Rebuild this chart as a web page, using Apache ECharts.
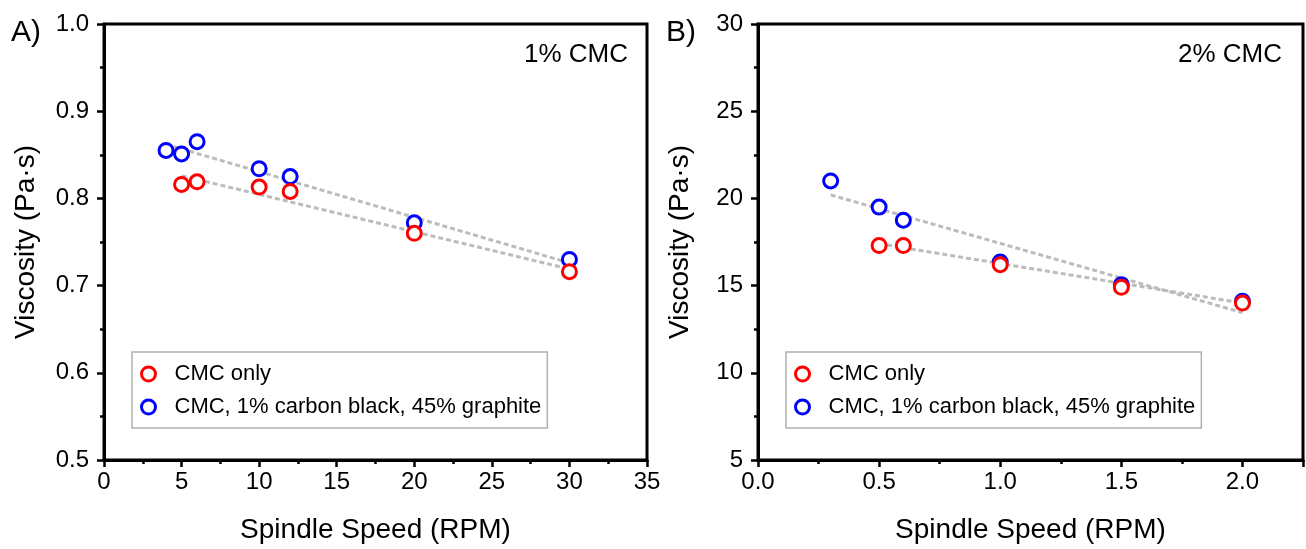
<!DOCTYPE html>
<html>
<head>
    <meta charset="utf-8"/>
    <title>Viscosity vs spindle speed</title>
    <script src="https://cdn.jsdelivr.net/npm/echarts@6/dist/echarts.min.js"></script>
    <style>
        html, body { margin: 0; padding: 0; background: #fff; }
        #chart { width: 1306px; height: 549px; }
    </style>
</head>
<body>
<div id="chart"></div>
<script>
    // panel A: 1% CMC
    var speedA_cmc = [5, 6, 10, 12, 20, 30];
    var viscA_cmc = [0.816, 0.819, 0.813, 0.808, 0.760, 0.716];
    var speedA_cb = [4, 5, 6, 10, 12, 20, 30];
    var viscA_cb = [0.855, 0.851, 0.865, 0.834, 0.825, 0.772, 0.730];
    var fitA_cmc = [[5, 0.826], [30, 0.719]];
    var fitA_cb = [[4, 0.862], [30, 0.726]];

    // panel B: 2% CMC
    var speedB_cmc = [0.5, 0.6, 1.0, 1.5, 2.0];
    var viscB_cmc = [17.3, 17.3, 16.2, 14.9, 14.0];
    var speedB_cb = [0.3, 0.5, 0.6, 1.0, 1.5, 2.0];
    var viscB_cb = [21.0, 19.5, 18.75, 16.35, 15.05, 14.1];
    var fitB_cmc = [[0.5, 17.4], [2.0, 14.0]];
    var fitB_cb = [[0.3, 20.2], [2.0, 13.45]];

    var nameCmc = 'CMC only';
    var nameCb = 'CMC, 1% carbon black, 45% graphite';
    var panelLetters = ['A)', 'B)'];
    var panelNotes = ['1% CMC', '2% CMC'];

    var FONT = "'Liberation Sans', Arial, sans-serif";

    function pairs(xs, ys) {
        return xs.map(function (x, i) { return [x, ys[i]]; });
    }

    function xAxisCfg(idx, max, interval, digits) {
        return {
            gridIndex: idx, type: 'value', min: 0, max: max, interval: interval,
            name: 'Spindle Speed (RPM)', nameLocation: 'middle', nameGap: 56,
            nameTextStyle: {fontFamily: FONT, fontSize: 28, color: '#000'},
            axisLine: {show: true, onZero: false, lineStyle: {color: '#000', width: 3}},
            axisTick: {show: true, length: 7, lineStyle: {color: '#000', width: 2.5}},
            minorTick: {show: true, splitNumber: 2, length: 4, lineStyle: {color: '#000', width: 2.5}},
            splitLine: {show: false},
            axisLabel: {
                fontFamily: FONT, fontSize: 24, color: '#000', margin: 10,
                formatter: function (v) {
                    if (Math.abs(v / interval - Math.round(v / interval)) > 1e-6) return '';
                    return v.toFixed(digits);
                }
            }
        };
    }

    function yAxisCfg(idx, min, max, interval, digits) {
        return {
            gridIndex: idx, type: 'value', min: min, max: max, interval: interval,
            name: 'Viscosity (Pa·s)', nameLocation: 'middle', nameGap: 64,
            nameTextStyle: {fontFamily: FONT, fontSize: 28, color: '#000'},
            axisLine: {show: true, onZero: false, lineStyle: {color: '#000', width: 3}},
            axisTick: {show: true, length: 7, lineStyle: {color: '#000', width: 2.5}},
            minorTick: {show: true, splitNumber: 2, length: 4, lineStyle: {color: '#000', width: 2.5}},
            splitLine: {show: false},
            axisLabel: {
                fontFamily: FONT, fontSize: 24, color: '#000', margin: 15,
                formatter: function (v) { return v.toFixed(digits); }
            }
        };
    }

    function scatter(name, color, idx, data) {
        return {
            name: name, type: 'scatter', xAxisIndex: idx, yAxisIndex: idx,
            symbol: 'circle', symbolSize: 14, z: 5,
            itemStyle: {color: '#fff', borderColor: color, borderWidth: 3, opacity: 1},
            data: data
        };
    }

    function fitLine(idx, data) {
        return {
            type: 'line', xAxisIndex: idx, yAxisIndex: idx, symbol: 'none', z: 3,
            silent: true, legendHoverLink: false,
            lineStyle: {color: '#bcbcbc', width: 3, type: [5, 3]},
            data: data
        };
    }

    function legendCfg(left) {
        return {
            orient: 'vertical', left: left, top: 352,
            data: [nameCmc, nameCb],
            itemWidth: 14, itemHeight: 14, itemGap: 11,
            padding: [11, 6, 10, 8],
            borderColor: '#b0b0b0', borderWidth: 1.5,
            itemStyle: {borderWidth: 3},
            textStyle: {fontFamily: FONT, fontSize: 22, color: '#000', lineHeight: 22, padding: [0, 0, 0, 14]},
            selectedMode: false
        };
    }

    var myChart = echarts.init(document.getElementById('chart'), null, {renderer: 'canvas'});
    var option = {
        animation: false,
        backgroundColor: '#fff',
        grid: [
            {left: 104, top: 24, width: 543, height: 438, show: true, borderColor: '#000', borderWidth: 3, backgroundColor: 'transparent'},
            {left: 758, top: 24, width: 545, height: 438, show: true, borderColor: '#000', borderWidth: 3, backgroundColor: 'transparent'}
        ],
        xAxis: [
            xAxisCfg(0, 35, 5, 0),
            xAxisCfg(1, 2.25, 0.5, 1)
        ],
        yAxis: [
            yAxisCfg(0, 0.5, 1.0, 0.1, 1),
            yAxisCfg(1, 5, 30, 5, 0)
        ],
        legend: [legendCfg(132), legendCfg(786)],
        graphic: [
            {type: 'text', left: 11, top: 18, style: {text: panelLetters[0], font: '30px ' + FONT, fill: '#000'}},
            {type: 'text', left: 666, top: 18, style: {text: panelLetters[1], font: '30px ' + FONT, fill: '#000'}},
            {type: 'text', right: 1306 - 628, top: 42, style: {text: panelNotes[0], font: '26px ' + FONT, fill: '#000'}},
            {type: 'text', right: 1306 - 1282, top: 42, style: {text: panelNotes[1], font: '26px ' + FONT, fill: '#000'}}
        ],
        series: [
            fitLine(0, fitA_cmc),
            fitLine(0, fitA_cb),
            scatter(nameCb, '#0000ff', 0, pairs(speedA_cb, viscA_cb)),
            scatter(nameCmc, '#ff0000', 0, pairs(speedA_cmc, viscA_cmc)),
            fitLine(1, fitB_cmc),
            fitLine(1, fitB_cb),
            scatter(nameCb, '#0000ff', 1, pairs(speedB_cb, viscB_cb)),
            scatter(nameCmc, '#ff0000', 1, pairs(speedB_cmc, viscB_cmc))
        ]
    };
    myChart.setOption(option);
</script>
</body>
</html>
